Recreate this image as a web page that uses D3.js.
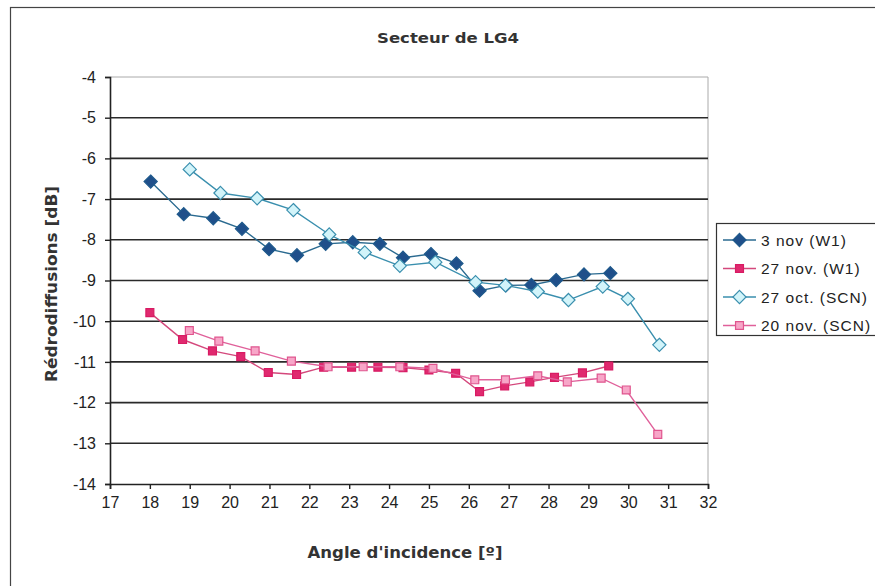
<!DOCTYPE html>
<html>
<head>
<meta charset="utf-8">
<script src="https://cdn.jsdelivr.net/npm/d3@7"></script>
<style>
  html, body { margin: 0; padding: 0; background: #fff; }
  svg { display: block; }
</style>
</head>
<body>
<svg id="chart" width="875" height="586"></svg>
<script>
// Incidence angle (°) and backscatter (dB) per acquisition
const x3nov = [18.02, 18.85, 19.59, 20.31, 20.99, 21.69, 22.41, 23.09, 23.77, 24.35, 25.05, 25.69, 26.27, 26.93, 27.57, 28.19, 28.89, 29.55];
const y3nov = [-6.57, -7.37, -7.47, -7.73, -8.23, -8.38, -8.10, -8.06, -8.10, -8.44, -8.35, -8.58, -9.25, -9.12, -9.11, -8.99, -8.85, -8.82];

const x27nov = [18.00, 18.82, 19.57, 20.28, 20.97, 21.68, 22.36, 23.06, 23.72, 24.35, 25.00, 25.67, 26.27, 26.90, 27.53, 28.15, 28.85, 29.51];
const y27nov = [-9.79, -10.45, -10.73, -10.87, -11.26, -11.31, -11.13, -11.13, -11.13, -11.14, -11.20, -11.28, -11.73, -11.59, -11.49, -11.38, -11.27, -11.10];

const x27oct = [19.00, 19.77, 20.69, 21.60, 22.50, 23.39, 24.27, 25.16, 26.17, 26.92, 27.73, 28.50, 29.36, 29.99, 30.78];
const y27oct = [-6.27, -6.85, -6.98, -7.27, -7.87, -8.31, -8.64, -8.55, -9.04, -9.12, -9.27, -9.48, -9.15, -9.45, -10.58];

const x20nov = [18.99, 19.73, 20.64, 21.55, 22.47, 23.35, 24.27, 25.10, 26.15, 26.92, 27.73, 28.47, 29.32, 29.95, 30.74];
const y20nov = [-10.23, -10.49, -10.73, -10.98, -11.12, -11.12, -11.12, -11.16, -11.44, -11.44, -11.34, -11.49, -11.40, -11.69, -12.78];

const seriesNames = ["3 nov (W1)", "27 nov. (W1)", "27 oct. (SCN)", "20 nov. (SCN)"];
const xTicks = d3.range(17, 33, 1);
const yTicks = d3.range(-14, -3, 1);

const title = "Secteur de LG4";
const xTitle = "Angle d'incidence [º]";
const yTitle = "Rédrodiffusions [dB]";

const series = [
  { name: seriesNames[0], xs: x3nov, ys: y3nov, shape: "diamond", stroke: "#1f5a8c", fill: "#1f4f8a", line: "#2a6a90" },
  { name: seriesNames[1], xs: x27nov, ys: y27nov, shape: "square", stroke: "#d81b63", fill: "#e0296f", line: "#d4487c" },
  { name: seriesNames[2], xs: x27oct, ys: y27oct, shape: "diamond", stroke: "#3a8fae", fill: "#d2f4fa", line: "#3a8fae" },
  { name: seriesNames[3], xs: x20nov, ys: y20nov, shape: "square", stroke: "#e0558e", fill: "#f7a6c8", line: "#e0609a" }
];

const svg = d3.select("#chart");
const margin = { left: 110, right: 167, top: 77, bottom: 102 };
const W = 875, H = 586;

const x = d3.scaleLinear().domain([17, 32]).range([margin.left, W - margin.right]);
const y = d3.scaleLinear().domain([-14, -4]).range([H - margin.bottom, margin.top]);

// outer frame (runs past the right and bottom edges)
svg.append("rect").attr("x", 10.5).attr("y", 7.5).attr("width", 880).attr("height", 590)
  .attr("fill", "none").attr("stroke", "#444").attr("stroke-width", 1.2);

// plot frame (top/right)
svg.append("path")
  .attr("d", `M${x(17)},${y(-4)}H${x(32)}V${y(-14)}`)
  .attr("fill", "none").attr("stroke", "#aaa").attr("stroke-width", 1);

// horizontal gridlines
svg.append("g").selectAll("line").data(yTicks.filter(v => v > -14 && v < -4)).join("line")
  .attr("x1", x(17)).attr("x2", x(32))
  .attr("y1", d => y(d)).attr("y2", d => y(d))
  .attr("stroke", "#2a2a2a").attr("stroke-width", 1.6);

// axes
const xAxis = d3.axisBottom(x).tickValues(xTicks).tickFormat(d3.format("d")).tickSize(5).tickPadding(8);
const yAxis = d3.axisLeft(y).tickValues(yTicks).tickFormat(d => d).tickSize(5).tickPadding(9);

const gx = svg.append("g").attr("transform", `translate(0,${y(-14)})`).call(xAxis);
const gy = svg.append("g").attr("transform", `translate(${x(17)},0)`).call(yAxis);
[gx, gy].forEach(g => {
  g.select(".domain").attr("stroke", "#222").attr("stroke-width", 1.6);
  g.selectAll(".tick line").attr("stroke", "#222").attr("stroke-width", 1.4);
  g.selectAll(".tick text").attr("fill", "#222")
    .style("font-family", "'Liberation Sans', Arial, sans-serif").style("font-size", "16px");
});
gy.selectAll(".tick text").text(d => d < 0 ? "-" + Math.abs(d) : d);

// titles
const boldFont = "'DejaVu Sans', Verdana, sans-serif";
svg.append("text").attr("x", 448).attr("y", 43).attr("text-anchor", "middle")
  .attr("textLength", 142).attr("lengthAdjust", "spacingAndGlyphs")
  .style("font-family", boldFont).style("font-weight", "bold")
  .style("font-size", "14.5px").attr("fill", "#333").text(title);
svg.append("text").attr("x", 405).attr("y", 558).attr("text-anchor", "middle")
  .attr("textLength", 195).attr("lengthAdjust", "spacingAndGlyphs")
  .style("font-family", boldFont).style("font-weight", "bold")
  .style("font-size", "15px").attr("fill", "#333").text(xTitle);
svg.append("text").attr("transform", `translate(57,284) rotate(-90)`)
  .attr("text-anchor", "middle")
  .attr("textLength", 196).attr("lengthAdjust", "spacingAndGlyphs")
  .style("font-family", boldFont).style("font-weight", "bold")
  .style("font-size", "15px").attr("fill", "#333").text(yTitle);

const symbolFor = shape => shape === "diamond"
  ? d3.symbol().type(d3.symbolDiamond2).size(110)
  : d3.symbol().type(d3.symbolSquare2).size(80);

const lineGen = d3.line().x(d => x(d[0])).y(d => y(d[1]));

const order = [0, 2, 1, 3];
order.forEach(i => {
  const s = series[i];
  const pts = s.xs.map((v, k) => [v, s.ys[k]]);
  const g = svg.append("g");
  g.append("path").attr("d", lineGen(pts)).attr("fill", "none")
    .attr("stroke", s.line).attr("stroke-width", 1.4);
  g.selectAll("path.m").data(pts).join("path").attr("class", "m")
    .attr("d", symbolFor(s.shape)())
    .attr("transform", d => `translate(${x(d[0])},${y(d[1])})`)
    .attr("fill", s.fill).attr("stroke", s.stroke).attr("stroke-width", 1.2);
});

// legend
const lg = svg.append("g");
lg.append("rect").attr("x", 716.5).attr("y", 223.5).attr("width", 170).attr("height", 112)
  .attr("fill", "#fff").attr("stroke", "#333").attr("stroke-width", 1.2);
series.forEach((s, i) => {
  const cy = 240 + i * 28.5;
  lg.append("line").attr("x1", 723).attr("x2", 756).attr("y1", cy).attr("y2", cy)
    .attr("stroke", s.line).attr("stroke-width", 1.4);
  lg.append("path").attr("d", symbolFor(s.shape)())
    .attr("transform", `translate(739.5,${cy})`)
    .attr("fill", s.fill).attr("stroke", s.stroke).attr("stroke-width", 1.2);
  lg.append("text").attr("x", 761).attr("y", cy + 5.5)
    .style("font-family", "'Liberation Sans', Arial, sans-serif").style("font-size", "15.5px")
    .style("letter-spacing", "1px")
    .attr("fill", "#222").text(s.name);
});
</script>
</body>
</html>
